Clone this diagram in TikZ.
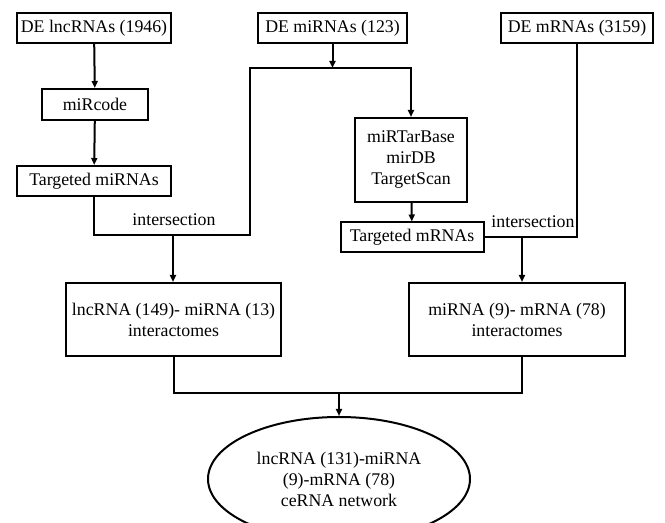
\documentclass[tikz,border=0pt]{standalone}
\usepackage{fontspec}
\setmainfont{Liberation Serif}
\usetikzlibrary{arrows.meta,positioning,calc,shapes.geometric}

\begin{document}
\begin{tikzpicture}[
  x=0.5pt, y=-0.5pt,
  font=\fontsize{8.9}{10.5}\selectfont,
  box/.style={draw, line width=1pt, align=center, inner sep=1pt, minimum height=15pt},
  ebox/.style={draw, ellipse, line width=1pt, align=center, inner sep=0pt, minimum width=131pt, minimum height=62pt},
  arr/.style={-{Triangle[length=3.5pt, width=3pt]}, line width=1pt},
  con/.style={line width=1pt},
  lab/.style={inner sep=0pt}
]
\useasboundingbox (0,0) rectangle (665,523);
% sources
\node[box, minimum width=77pt] (lnc) at (94,28) {DE lncRNAs (1946)};
\node[box, minimum width=74.5pt] (demi) at (332.5,28) {DE miRNAs (123)};
\node[box, minimum width=76pt] (dem) at (577,28) {DE mRNAs (3159)};
% prediction steps
\node[box, minimum width=53pt, minimum height=15.5pt] (mirc) at (95,104.5) {miRcode};
\node[box, minimum width=77pt] (tmi) at (94,181) {Targeted miRNAs};
\node[box, minimum width=56pt, minimum height=42pt] (tools) at (411,160) {miRTarBase\\ mirDB\\ TargetScan};
\node[box, minimum width=71.5pt] (tm) at (412,237.5) {Targeted mRNAs};
% interactomes and network
\node[box, minimum width=107.5pt, minimum height=36.5pt] (li) at (173.5,319.5) {lncRNA (149)- miRNA (13)\\ interactomes};
\node[box, minimum width=108pt, minimum height=36.5pt] (mi) at (517,319.5) {miRNA (9)- mRNA (78)\\ interactomes};
\node[ebox] (ce) at (339,479) {lncRNA (131)-miRNA\\ (9)-mRNA (78)\\ ceRNA network};
\node[lab] (intl) at (174,220) {intersection};
\node[lab] (intr) at (533,222) {intersection};
% junctions
\coordinate (bendL) at (250,235);
\coordinate (bendT) at (250,68);
\coordinate (jl) at (173,235);
\coordinate (jr) at (522,237.5);
\coordinate (jb) at (339,393);
% connectors
\draw[arr] (lnc) -- (mirc);
\draw[arr] (mirc) -- (tmi);
\draw[arr] (tmi.south) |- (bendL) -- (bendT) -| (tools.north);
\draw[arr] (demi.south) -- (demi.south |- bendT);
\draw[arr] (jl) -- (jl |- li.north);
\draw[arr] (tools) -- (tm);
\draw[con] (dem.south) |- (tm.east);
\draw[arr] (jr) -- (jr |- mi.north);
\draw[con] (li.south) |- (jb) -| (jr |- mi.south);
\draw[arr] (jb) -- (ce);
\end{tikzpicture}
\end{document}
